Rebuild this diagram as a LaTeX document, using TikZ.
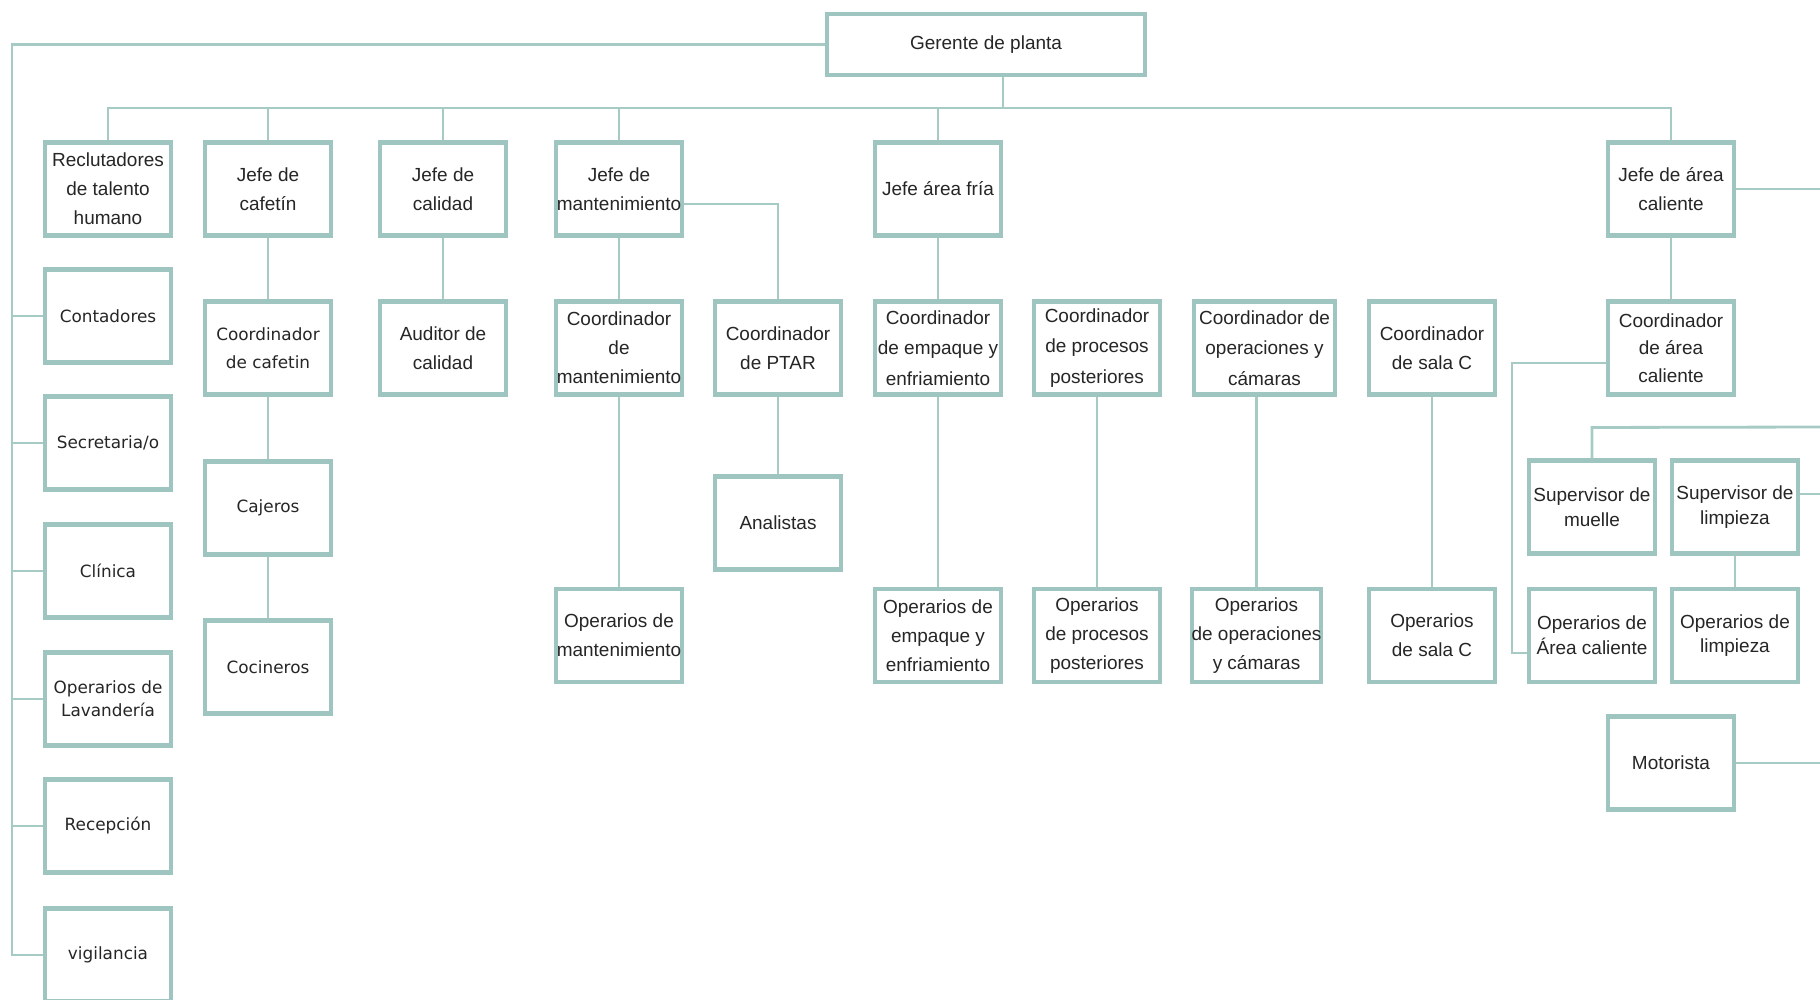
\documentclass[tikz,border=0pt]{standalone}
\usepackage{fontspec}
\setmainfont{Liberation Sans}
\newfontfamily\anchafont{DejaVu Sans}
\usetikzlibrary{calc}

\definecolor{boxteal}{RGB}{158,197,191}
\definecolor{linkteal}{RGB}{166,203,197}
\definecolor{txtgray}{RGB}{38,38,38}

\newcommand*{\busy}{108}
\newcommand*{\leftx}{12}
\newcommand*{\rightx}{1820}

\begin{document}
\begin{tikzpicture}
[
	x=0.02cm, y=-0.02cm,
	puesto/.style={rectangle,draw=boxteal,line width=2.3pt,fill=white,text=txtgray,align=center,inner sep=0pt,minimum width=2.52cm,minimum height=1.86cm,font=\fontsize{10.8}{16.5}\selectfont},
	apretado/.style={font=\fontsize{10.8}{14}\selectfont},
	ancha/.style={font=\anchafont\fontsize{9.6}{16}\selectfont},
	enlace/.style={draw=linkteal,line width=1.6pt}
]
	\useasboundingbox (0,0) rectangle (1820,1000);

	% gerente
	\node[puesto,minimum width=6.36cm,minimum height=1.22cm] (ger) at (986,44.5) {Gerente de planta};

	% jefes
	\node[puesto] (rec) at (108,189) {Reclutadores\\de talento\\humano};
	\node[puesto] (jcaf) at (268,189) {Jefe de\\cafetín};
	\node[puesto] (jcal) at (443,189) {Jefe de\\calidad};
	\node[puesto] (jman) at (619,189) {Jefe de\\mantenimiento};
	\node[puesto] (jfri) at (938,189) {Jefe área fría};
	\node[puesto] (jcli) at (1671,189) {Jefe de área\\caliente};

	% columna izquierda
	\node[puesto,ancha] (cont) at (108,316) {Contadores};
	\node[puesto,ancha] (secr) at (108,443) {Secretaria/o};
	\node[puesto,ancha] (clin) at (108,571) {Clínica};
	\node[puesto,ancha,font=\anchafont\fontsize{9.6}{13}\selectfont] (lav) at (108,699) {Operarios de\\Lavandería};
	\node[puesto,ancha] (recep) at (108,826) {Recepción};
	\node[puesto,ancha] (vig) at (108,955) {vigilancia};

	% cafetin
	\node[puesto,ancha] (ccaf) at (268,348) {Coordinador\\de cafetin};
	\node[puesto,ancha] (caj) at (268,508) {Cajeros};
	\node[puesto,ancha] (coc) at (268,667) {Cocineros};

	% calidad y mantenimiento
	\node[puesto] (aud) at (443,348) {Auditor de\\calidad};
	\node[puesto] (cman) at (619,348) {Coordinador\\de\\mantenimiento};
	\node[puesto] (oman) at (619,635.5) {Operarios de\\mantenimiento};
	\node[puesto] (cptar) at (778,348) {Coordinador\\de PTAR};
	\node[puesto] (ana) at (778,523) {Analistas};

	% area fria
	\node[puesto,font=\fontsize{10.8}{17.5}\selectfont] (cemp) at (938,348) {Coordinador\\de empaque y\\enfriamiento};
	\node[puesto] (oemp) at (938,635.5) {Operarios de\\empaque y\\enfriamiento};
	\node[puesto,font=\fontsize{10.8}{17.5}\selectfont] (cpro) at (1097,348) {Coordinador\\de procesos\\posteriores};
	\node[puesto] (opro) at (1097,635.5) {Operarios\\de procesos\\posteriores};
	\node[puesto,minimum width=2.82cm,font=\fontsize{10.8}{17.5}\selectfont] (cope) at (1264.5,348) {Coordinador de\\operaciones y\\cámaras};
	\node[puesto] (oope) at (1256.5,635.5) {Operarios\\de operaciones\\y cámaras};
	\node[puesto] (csal) at (1432,348) {Coordinador\\de sala C};
	\node[puesto] (osal) at (1432,635.5) {Operarios\\de sala C};

	% area caliente
	\node[puesto,font=\fontsize{10.8}{15.5}\selectfont] (ccal) at (1671,348) {Coordinador\\de área\\caliente};
	\node[puesto,apretado] (smue) at (1592,507) {Supervisor de\\muelle};
	\node[puesto,apretado] (slim) at (1735,507) {Supervisor de\\limpieza};
	\node[puesto,apretado] (ocal) at (1592,635.5) {Operarios de\\Área caliente};
	\node[puesto,apretado] (olim) at (1735,635.5) {Operarios de\\limpieza};
	\node[puesto] (mot) at (1671,763) {Motorista};

	% puntos de paso
	\coordinate (tallo) at (1003,\busy);
	\coordinate (esq) at (\leftx,44.5);
	\coordinate (borde) at (\rightx,0);
	\coordinate (codo) at (1512,653);

	% bus principal
	\draw[enlace] (ger.south -| tallo) -- (tallo);
	\draw[enlace] (rec.north) -- (rec.north |- tallo) -- (jcli.north |- tallo) -- (jcli.north);
	\foreach \n in {jcaf,jcal,jman,jfri}
		\draw[enlace] (\n.north) -- (\n.north |- tallo);

	% lado izquierdo
	\draw[enlace] (ger.west) -- (esq) |- (vig.west);
	\foreach \n in {cont,secr,clin,lav,recep}
		\draw[enlace] (\n.west) -- (\n.west -| esq);

	% lineas verticales
	\draw[enlace] (jcaf) -- (ccaf) -- (caj) -- (coc);
	\draw[enlace] (jcal) -- (aud);
	\draw[enlace] (jman) -- (cman) -- (oman);
	\draw[enlace] (cptar) -- (ana);
	\draw[enlace] (jfri) -- (cemp) -- (oemp);
	\draw[enlace] (cpro) -- (opro);
	\draw[enlace] (oope.north) -- (oope.north |- cope.south);
	\draw[enlace] (csal) -- (osal);
	\draw[enlace] (jcli) -- (ccal);
	\draw[enlace] (slim) -- (olim);

	% codos
	\draw[enlace] ($(jman.east)+(0,15)$) -| (cptar.north);
	\draw[enlace] ($(ccal.west)+(0,15)$) -| (codo) -- (codo -| ocal.west);

	% hacia la derecha
	\draw[enlace] (jcli.east) -- (jcli.east -| borde);
	\draw[enlace] (smue.north) -- ++(0,-31) -- (borde |- 0,427);
	\draw[enlace] ($(slim.east)+(0,-13)$) -- ($(slim.east -| borde)+(0,-13)$);
	\draw[enlace] (mot.east) -- (mot.east -| borde);

\end{tikzpicture}
\end{document}
